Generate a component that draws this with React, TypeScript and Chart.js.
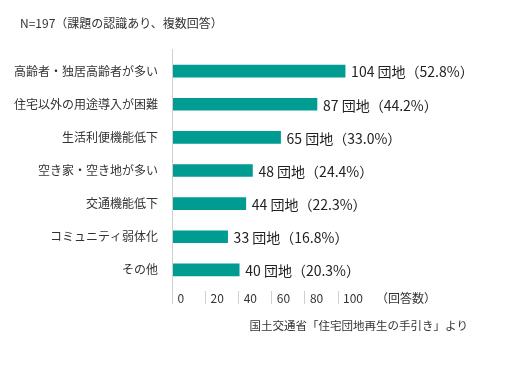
import { useEffect, useRef } from 'react';
import { Chart, registerables } from 'chart.js';

Chart.register(...registerables);

const categories = [
  '高齢者・独居高齢者が多い',
  '住宅以外の用途導入が困難',
  '生活利便機能低下',
  '空き家・空き地が多い',
  '交通機能低下',
  'コミュニティ弱体化',
  'その他',
];
const counts = [104, 87, 65, 48, 44, 33, 40];
const percents = [52.8, 44.2, 33.0, 24.4, 22.3, 16.8, 20.3];
const xTickValues = [0, 20, 40, 60, 80, 100];
const axisUnitLabel = '（回答数）';
const valueUnit = '団地';
const titleText = 'N=197（課題の認識あり、複数回答）';
const sourceText = '国土交通省「住宅団地再生の手引き」より';

const FONT = "'Noto Sans CJK JP', 'Noto Sans', sans-serif";
const TEXT = '#333333';
const BAR = '#009b91';
const AXIS = '#d0d0d0';

const overlayPlugin = {
  id: 'overlay',
  afterDraw(chart: any) {
    const { ctx, chartArea, scales } = chart;
    const xs = scales.x;
    ctx.save();
    // axis line and tick marks
    ctx.strokeStyle = AXIS;
    ctx.lineWidth = 1;
    const x0 = Math.round(xs.getPixelForValue(0)) - 0.5;
    ctx.beginPath();
    ctx.moveTo(x0, chartArea.top - 5.5);
    ctx.lineTo(x0, chartArea.bottom + 17.5);
    ctx.stroke();
    xTickValues.forEach((v) => {
      if (v === 0) return;
      const px = Math.round(xs.getPixelForValue(v)) - 0.5;
      ctx.beginPath();
      ctx.moveTo(px, chartArea.bottom + 4.5);
      ctx.lineTo(px, chartArea.bottom + 17.5);
      ctx.stroke();
    });
    // value labels
    ctx.fillStyle = '#222222';
    ctx.font = `14px ${FONT}`;
    ctx.textAlign = 'left';
    ctx.textBaseline = 'middle';
    const meta = chart.getDatasetMeta(0);
    meta.data.forEach((bar: any, i: number) => {
      const label = `${counts[i]} ${valueUnit}（${percents[i].toFixed(1)}%）`;
      ctx.fillText(label, bar.x + 6, bar.y + 1);
    });
    // title
    ctx.fillStyle = TEXT;
    ctx.font = `12px ${FONT}`;
    ctx.fillText(titleText, 20, 23);
    // source
    ctx.font = `11.5px ${FONT}`;
    ctx.textAlign = 'right';
    ctx.fillText(sourceText, 468, 326);
    ctx.restore();
  },
};

export default function App() {
  const ref = useRef<HTMLCanvasElement | null>(null);
  useEffect(() => {
    if (!ref.current) return;
    const chart = new Chart(ref.current, {
      type: 'bar',
      data: {
        labels: categories,
        datasets: [
          {
            data: counts,
            backgroundColor: BAR,
            borderWidth: 0,
            barThickness: 12,
          },
        ],
      },
      options: {
        indexAxis: 'y',
        responsive: false,
        animation: false,
        layout: { padding: { top: 54.5, right: 25, bottom: 0, left: 0 } },
        plugins: {
          legend: { display: false },
          tooltip: { enabled: false },
          title: { display: false },
        },
        scales: {
          x: {
            type: 'linear',
            min: 0,
            max: 200,
            grid: { display: false },
            border: { display: false },
            afterFit: (scale: any) => {
              scale.height = 82.5;
            },
            ticks: {
              stepSize: 20,
              autoSkip: false,
              maxRotation: 0,
              align: 'start',
              labelOffset: 4.5,
              padding: -3.5,
              color: TEXT,
              font: { family: FONT, size: 12 },
              callback: (v: any) => {
                const n = Number(v);
                if (xTickValues.includes(n)) return String(n);
                if (n === 120) return axisUnitLabel;
                return '';
              },
            },
          },
          y: {
            type: 'category',
            grid: { display: false },
            border: { display: false },
            afterFit: (scale: any) => {
              scale.width = 173;
            },
            ticks: {
              padding: 7,
              color: TEXT,
              font: { family: FONT, size: 12 },
            },
          },
        },
      },
      plugins: [overlayPlugin],
    });
    return () => chart.destroy();
  }, []);
  return (
    <div style={{ position: 'absolute', left: 0, top: 0, width: 529, height: 369, background: '#fff' }}>
      <canvas ref={ref} width={529} height={369} style={{ display: 'block' }} />
    </div>
  );
}
